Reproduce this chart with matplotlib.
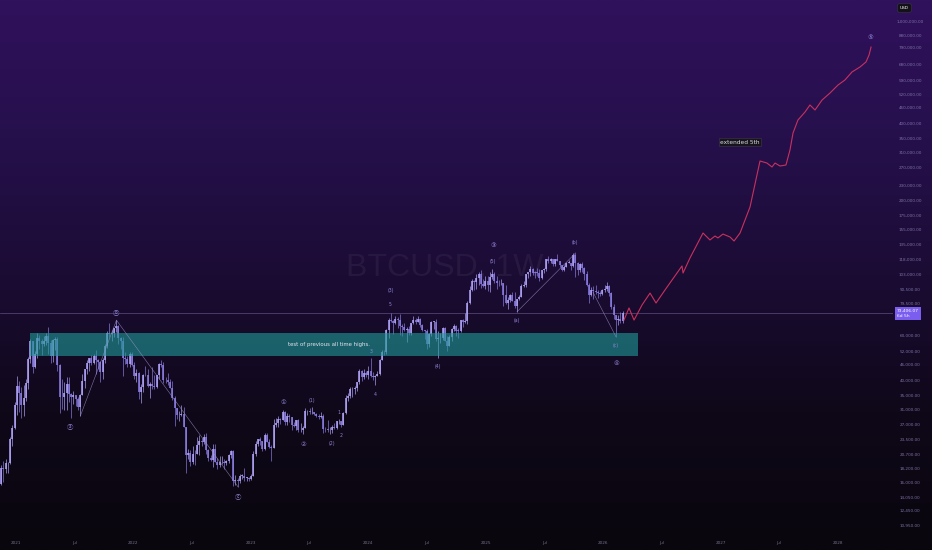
import numpy as np
import pandas as pd
import matplotlib
matplotlib.use('Agg')
import matplotlib.pyplot as plt
import matplotlib.dates as mdates
import matplotlib.transforms as mtransforms
from matplotlib.colors import LinearSegmentedColormap
from matplotlib.patches import Rectangle

plt.rcParams['font.family'] = ['DejaVu Sans', 'Noto Sans CJK SC']

# ---------------- DATA ----------------
first_week = '2020-11-16'
first_open = 15.97  # thousand USD

close_k = [
    18.4, 18.2, 19.2, 19.2, 23.8, 26.3, 32.2,
    # 2021
    38.2, 36.0, 32.3, 34.3, 39.2, 48.6, 57.5, 45.2, 51.0, 59.0, 57.4, 55.8, 57.1, 60.0, 56.2, 50.1,
    57.8, 58.2, 46.4, 34.7, 34.6, 35.8, 39.1, 35.5, 34.7, 35.3, 34.2, 31.8, 35.4, 39.9, 44.6, 47.1,
    49.3, 47.0, 50.0, 48.3, 47.3, 43.2, 48.2, 54.9, 61.5, 60.9, 61.3, 64.4, 65.5, 59.0, 57.3, 49.4,
    48.9, 46.7, 50.8, 46.2,
    # 2022
    41.8, 43.1, 36.3, 37.9, 42.4, 42.2, 38.3, 39.1, 38.4, 37.8, 42.2, 46.8, 46.4, 40.5, 40.4, 39.5,
    37.6, 34.3, 31.3, 29.4, 29.4, 29.9, 26.6, 20.6, 21.0, 19.3, 20.9, 20.8, 22.6, 23.3, 23.2, 24.3,
    21.5, 20.0, 19.8, 21.8, 19.4, 18.9, 19.3, 19.4, 19.2, 19.6, 20.6, 21.3, 16.3, 16.5, 16.4, 17.1,
    17.1, 16.8, 16.8, 16.6,
    # 2023
    17.1, 20.9, 22.7, 23.8, 23.3, 21.8, 24.6, 23.2, 22.2, 22.0, 26.9, 27.5, 28.5, 28.3, 30.3, 27.6,
    29.2, 28.9, 26.9, 26.7, 28.1, 25.8, 25.9, 26.3, 30.5, 30.6, 30.3, 30.3, 29.9, 29.3, 29.1, 29.3,
    26.1, 26.0, 25.8, 25.8, 26.5, 26.2, 27.9, 27.9, 27.0, 30.0, 34.5, 35.0, 37.1, 37.4, 37.5, 39.5,
    43.8, 41.4, 43.0, 42.3,
    # 2024
    43.9, 41.7, 41.6, 42.0, 42.6, 48.3, 52.1, 51.7, 63.1, 68.9, 68.4, 67.2, 69.7, 69.4, 65.6, 64.9,
    63.4, 64.0, 61.5, 67.0, 69.3, 67.8, 69.6, 66.2, 63.2, 62.7, 55.8, 60.8, 68.2, 68.2, 58.2, 58.7,
    58.9, 64.2, 57.3, 54.8, 59.1, 63.6, 65.6, 62.9, 62.8, 69.0, 68.0, 68.7, 80.4, 90.5, 97.9, 97.3,
    101.1, 104.4, 95.1, 93.7, 98.4,
    # 2025
    94.5, 101.3, 104.7, 97.7, 96.5, 96.1, 96.3, 86.1, 80.7, 82.6, 86.1, 82.3, 78.4, 83.7, 85.1, 93.7,
    94.3, 104.2, 106.4, 109.0, 105.7, 105.6, 105.5, 100.9, 108.4, 109.2, 119.1, 117.3, 119.4, 114.2,
    119.3, 117.4, 113.5, 108.3, 111.2, 115.3, 115.3, 112.2, 123.5, 115.0, 108.6, 114.5, 110.6, 104.7,
    94.5, 86.8, 90.4, 89.5, 88.5, 88.0, 87.5, 90.5,
    # 2026
    91.0, 94.0, 88.0, 78.0, 72.0, 69.0, 70.0, 68.5, 73.4,
]
high_k = [
    18.8, 19.5, 19.9, 19.4, 24.3, 27.0, 33.3,
    42.0, 40.0, 37.9, 38.6, 40.9, 49.7, 58.4, 57.5, 52.6, 61.8, 60.6, 58.4, 60.1, 61.3, 64.8, 57.6,
    58.5, 59.5, 59.6, 46.6, 40.9, 39.5, 41.3, 41.3, 35.8, 36.6, 35.1, 34.6, 35.5, 42.6, 44.7, 48.1,
    49.4, 50.5, 51.0, 52.9, 48.8, 47.9, 49.2, 56.0, 62.9, 67.0, 63.0, 64.4, 69.0, 66.3, 59.4, 59.2,
    51.9, 50.1, 51.9, 52.0,
    47.6, 44.4, 43.5, 38.9, 42.6, 45.8, 44.7, 39.8, 45.4, 42.4, 42.3, 47.0, 48.2, 47.4, 41.5, 42.9,
    40.8, 40.0, 35.0, 31.3, 30.6, 32.2, 31.7, 26.6, 21.8, 21.5, 22.4, 21.6, 24.2, 24.6, 24.0, 24.9,
    25.2, 21.8, 20.6, 22.8, 22.7, 20.0, 20.4, 20.5, 19.9, 19.7, 20.9, 21.5, 21.5, 17.2, 16.8, 17.4,
    17.4, 18.4, 17.0, 16.9,
    17.4, 21.3, 23.3, 23.8, 24.2, 23.4, 25.2, 25.1, 23.9, 22.6, 28.4, 28.8, 29.2, 28.8, 31.0, 30.5,
    30.0, 29.8, 29.0, 27.7, 28.3, 28.4, 27.4, 26.8, 31.4, 31.0, 31.5, 31.8, 30.4, 30.0, 29.9, 30.2,
    29.7, 26.5, 28.1, 26.4, 26.9, 27.5, 28.0, 28.6, 28.0, 30.3, 35.2, 35.9, 38.0, 37.9, 38.4, 39.7,
    44.7, 44.0, 44.4, 43.8,
    45.9, 49.0, 43.2, 42.2, 43.9, 48.6, 52.8, 52.9, 64.0, 70.1, 73.8, 68.9, 71.7, 71.3, 72.8, 66.8,
    67.2, 64.7, 65.5, 67.4, 71.9, 70.6, 71.9, 70.1, 66.9, 63.4, 63.8, 61.4, 68.3, 68.5, 70.0, 62.7,
    61.8, 65.0, 64.9, 59.8, 60.6, 64.1, 66.5, 66.1, 64.5, 69.4, 69.5, 73.6, 81.8, 93.5, 99.6, 98.7,
    104.0, 106.6, 108.3, 99.9, 102.5,
    102.7, 106.0, 109.6, 106.4, 102.5, 98.8, 99.5, 96.5, 95.0, 85.3, 87.5, 88.8, 88.5, 83.8, 86.4, 95.8,
    97.9, 104.3, 105.8, 111.9, 110.5, 106.8, 110.5, 108.9, 108.5, 110.5, 119.5, 123.2, 120.2, 119.8,
    119.3, 124.5, 117.6, 113.5, 113.3, 116.6, 117.9, 115.5, 125.7, 126.2, 116.0, 115.5, 116.4, 110.8,
    107.5, 96.6, 93.0, 94.0, 94.5, 90.5, 90.0, 91.5,
    94.5, 97.5, 95.0, 89.0, 80.0, 72.5, 72.0, 74.5, 75.0,
]
low_k = [
    15.8, 16.2, 17.6, 17.6, 19.0, 22.4, 26.0,
    29.5, 30.4, 28.8, 29.2, 33.4, 37.4, 47.0, 43.0, 45.0, 49.3, 53.3, 50.4, 54.9, 55.5, 51.0, 47.0,
    47.5, 53.0, 43.8, 30.0, 31.2, 31.0, 31.0, 33.3, 28.8, 32.7, 32.1, 31.0, 29.3, 35.2, 37.5, 42.8,
    43.9, 46.3, 46.5, 42.8, 44.7, 39.6, 40.8, 47.1, 53.9, 59.6, 57.4, 59.5, 62.3, 55.6, 53.3, 42.0,
    46.8, 45.5, 45.5, 45.7,
    40.6, 39.6, 34.0, 32.9, 36.3, 41.7, 38.0, 34.3, 37.1, 37.2, 37.6, 40.9, 45.2, 39.2, 39.2, 38.5,
    37.6, 33.7, 26.7, 28.6, 28.0, 29.3, 26.6, 17.6, 19.9, 18.7, 19.1, 18.9, 20.8, 20.7, 22.4, 22.7,
    20.8, 19.6, 19.5, 18.6, 19.3, 18.2, 18.5, 19.1, 18.2, 18.9, 19.2, 20.0, 15.6, 15.8, 15.5, 16.0,
    16.7, 16.3, 16.4, 16.3,
    16.5, 17.1, 20.4, 22.3, 22.6, 21.4, 21.5, 23.1, 21.9, 19.6, 21.9, 26.6, 26.5, 27.2, 28.2, 27.1,
    27.0, 27.7, 25.8, 26.4, 25.9, 25.4, 25.4, 24.8, 26.3, 29.6, 29.9, 29.9, 29.6, 28.9, 28.6, 28.8,
    25.2, 25.4, 25.3, 24.9, 25.1, 26.0, 26.0, 27.2, 26.5, 26.9, 29.9, 33.4, 34.5, 34.8, 35.6, 36.7,
    39.0, 40.2, 40.6, 41.5,
    40.8, 41.5, 40.3, 38.5, 41.8, 42.3, 48.3, 50.6, 50.9, 59.0, 68.0, 60.8, 66.7, 64.5, 60.7, 59.7,
    62.8, 56.6, 60.2, 60.7, 66.4, 66.6, 67.6, 65.1, 62.9, 58.5, 53.5, 54.3, 60.0, 63.5, 57.1, 49.1,
    56.1, 57.8, 57.2, 52.6, 54.6, 57.5, 62.7, 59.8, 58.9, 62.0, 65.1, 67.5, 66.8, 80.0, 89.4, 90.8,
    91.0, 94.2, 92.1, 92.5, 91.2,
    89.3, 89.2, 99.5, 96.2, 91.2, 94.1, 94.8, 78.2, 80.0, 76.6, 81.2, 81.6, 77.1, 74.4, 83.0, 85.1,
    92.8, 93.3, 100.7, 102.1, 103.0, 100.4, 102.6, 98.2, 100.0, 105.1, 107.4, 115.7, 114.7, 112.0,
    112.6, 116.8, 110.7, 107.3, 107.3, 110.7, 114.7, 108.6, 111.6, 102.0, 103.5, 106.5, 106.3, 98.9,
    94.0, 80.5, 85.5, 83.8, 87.5, 84.5, 86.0, 86.5,
    89.0, 90.0, 86.0, 76.0, 70.0, 59.5, 66.0, 67.0, 67.5,
]

last_price = 73406.07
last_price_text = '73,406.07\n6d 5h'

# projected path (decimal year, USD)
proj_year = [2026.174, 2026.217, 2026.260, 2026.328, 2026.396, 2026.447, 2026.523, 2026.668,
             2026.677, 2026.736, 2026.847, 2026.906, 2026.949, 2026.974, 2027.017, 2027.077,
             2027.111, 2027.162, 2027.247, 2027.332, 2027.391, 2027.434, 2027.460, 2027.502,
             2027.553, 2027.587, 2027.613, 2027.655, 2027.715, 2027.757, 2027.800, 2027.860,
             2027.928, 2027.996, 2028.055, 2028.115, 2028.183, 2028.234, 2028.260, 2028.277]
proj_price = [69100, 77000, 69100, 79100, 88000, 80500, 90400, 112200,
              105300, 120500, 150700, 141600, 146700, 144200, 149300, 145400,
              140300, 150700, 190300, 287300, 282100, 272300, 282100, 274700,
              277200, 317100, 369300, 414800, 445600, 474600, 453700, 496000,
              528500, 567600, 593800, 638000, 667000, 697700, 742500, 797500]

# support zone
zone_start, zone_end = 2021.119, 2026.294
zone_low, zone_high = 50100, 61500
zone_text = 'test of previous all time highs.'
zone_text_pos = (2023.315, 55300)

# wave labels
wave_text = ['ⓐ', 'ⓑ', 'ⓒ', '①', '②', '(1)', '(2)', '1', '2', '3', '4', '5', '(3)', '(4)',
             '③', '(5)', '(a)', '(b)', '(c)', '④', '⑤']
wave_year = [2021.460, 2021.851, 2022.889, 2023.272, 2023.443, 2023.519, 2023.689, 2023.749,
             2023.766, 2024.021, 2024.055, 2024.183, 2024.191, 2024.591, 2025.060, 2025.060,
             2025.264, 2025.757, 2026.106, 2026.106, 2028.268]
wave_price = [26500, 73600, 14160, 32900, 22760, 33460, 22960, 30300, 24460, 51900, 35600, 79100,
              90400, 45400, 135000, 116500, 69100, 137900, 54800, 47000, 872600]

# connector lines (decimal year pairs, price pairs)
conn_year = [(2021.548, 2021.855), (2021.855, 2022.890), (2025.264, 2025.764), (2025.910, 2026.106)]
conn_price = [(29300, 69000), (69000, 15500), (74400, 126200), (88800, 59500)]

note_text = 'extended 5th'
note_pos = (2027.162, 340600)

price_ticks = [1000000, 880000, 790000, 680000, 590000, 520000, 460000, 400000, 350000, 310000,
               270000, 230000, 200000, 175000, 155000, 135000, 118000, 103000, 90500, 79500,
               60000, 52000, 46000, 40000, 35000, 31000, 27000, 23500, 20700, 18200, 16000,
               14050, 12450, 10950]
time_tick_dates = ['2021-01-01', '2021-07-01', '2022-01-01', '2022-07-01', '2023-01-01',
                   '2023-07-01', '2024-01-01', '2024-07-01', '2025-01-01', '2025-07-01',
                   '2026-01-01', '2026-07-01', '2027-01-01', '2027-07-01', '2028-01-01']
time_tick_labels = ['2021', 'Jul', '2022', 'Jul', '2023', 'Jul', '2024', 'Jul', '2025', 'Jul',
                    '2026', 'Jul', '2027', 'Jul', '2028']

# ---------------- FIGURE ----------------
FW, FH = 932, 550
fig = plt.figure(figsize=(FW / 100, FH / 100), dpi=100)

bg = fig.add_axes([0, 0, 1, 1], zorder=-5)
grad = np.linspace(0, 1, 256).reshape(-1, 1)
cmap = LinearSegmentedColormap.from_list('bg', ['#30115c', '#26104c', '#1b0c34', '#0f0819', '#09060d'])
bg.imshow(grad, aspect='auto', cmap=cmap, extent=[0, 1, 0, 1], origin='upper')
bg.set_axis_off()

ax = fig.add_axes([0, 0, 893 / FW, 1])
axp = fig.add_axes([893 / FW, 0, 39 / FW, 1])
for a in (ax, axp):
    a.set_facecolor('none')
    a.set_yscale('log')
    a.set_ylim(126000 / 10 ** (297 / 257), 126000 * 10 ** (253 / 257))
    a.set_axis_off()
axp.set_xlim(0, 1)

base = mdates.date2num(pd.Timestamp('2021-01-01'))


def ynum(y):
    return base + (y - 2021.0) * 365.25


x0 = base - 16 / 117.5 * 365.25
ax.set_xlim(x0, x0 + 893 / 117.5 * 365.25)

# watermark
ax.text(0.498, 0.512, 'BTCUSD, 1W', transform=ax.transAxes, ha='center', va='center',
        fontsize=23, family='Liberation Sans', color='white', alpha=0.05, zorder=1)

# candles
weeks = pd.date_range(first_week, periods=len(close_k), freq='7D')
xs = mdates.date2num(weeks)
c = np.array(close_k) * 1000
h = np.array(high_k) * 1000
l = np.array(low_k) * 1000
o = np.concatenate([[first_open * 1000], c[:-1]])
up = c >= o
cols = np.where(up, '#b6aaff', '#9082ea')
ax.vlines(xs, l, h, colors=cols, lw=0.45, zorder=3)
bot = np.minimum(o, c)
top = np.maximum(np.maximum(o, c), bot * 1.004)
ax.vlines(xs, bot, top, colors=cols, lw=1.1, zorder=3)

# current price line
ax.axhline(last_price, color='#8a78b8', lw=0.5, alpha=0.6, zorder=2)

# zone
ax.add_patch(Rectangle((ynum(zone_start), zone_low), ynum(zone_end) - ynum(zone_start),
                       zone_high - zone_low, facecolor='#1f9c99', alpha=0.6, lw=0, zorder=4))
ax.text(ynum(zone_text_pos[0]), zone_text_pos[1], zone_text, fontsize=3.9, color='#e4e4ee',
        ha='left', va='center', zorder=6)

# connectors
for (ya, yb), (pa, pb) in zip(conn_year, conn_price):
    ax.plot([ynum(ya), ynum(yb)], [pa, pb], color='#9a90c8', lw=0.4, alpha=0.8, zorder=5)

# wave labels
for t, yy, pp in zip(wave_text, wave_year, wave_price):
    circ = len(t) == 1 and ord(t) > 0x2400
    ax.text(ynum(yy), pp, t, fontsize=4.6 if circ else 3.3, color='#9085d6', ha='center',
            va='center', zorder=6)

# projection
ax.plot([ynum(y) for y in proj_year], proj_price, color='#c9315f', lw=0.8, zorder=5)

# note
ax.text(ynum(note_pos[0]), note_pos[1], note_text, fontsize=4.2, color='#d8d8de', ha='center',
        va='center', zorder=7,
        bbox=dict(boxstyle='square,pad=0.25', fc='#17141d', ec='#3c3a46', lw=0.4))

# time axis labels
trans = mtransforms.blended_transform_factory(ax.transData, ax.transAxes)
for d, lab in zip(time_tick_dates, time_tick_labels):
    ax.text(mdates.date2num(pd.Timestamp(d)), 1 - 543 / FH, lab, transform=trans, fontsize=3.0,
            color='#75718a', ha='center', va='center', zorder=6)

# price axis labels
for v in price_ticks:
    axp.text(0.44, v, f'{v:,.2f}', fontsize=3.0, color='#7d72a6', ha='center', va='center')

axp.text(0.1, last_price, last_price_text, fontsize=3.2, color='white', ha='left', va='center',
         linespacing=1.2, bbox=dict(boxstyle='square,pad=0.45', fc='#7b5ef0', ec='none'))

fig.text(900 / FW, 1 - 8 / FH, 'USD', fontsize=3.1, color='white', ha='left', va='center',
         bbox=dict(boxstyle='round,pad=0.6', fc='#141218', ec='#3a3846', lw=0.4))

fig.savefig('out.png', dpi=100)
